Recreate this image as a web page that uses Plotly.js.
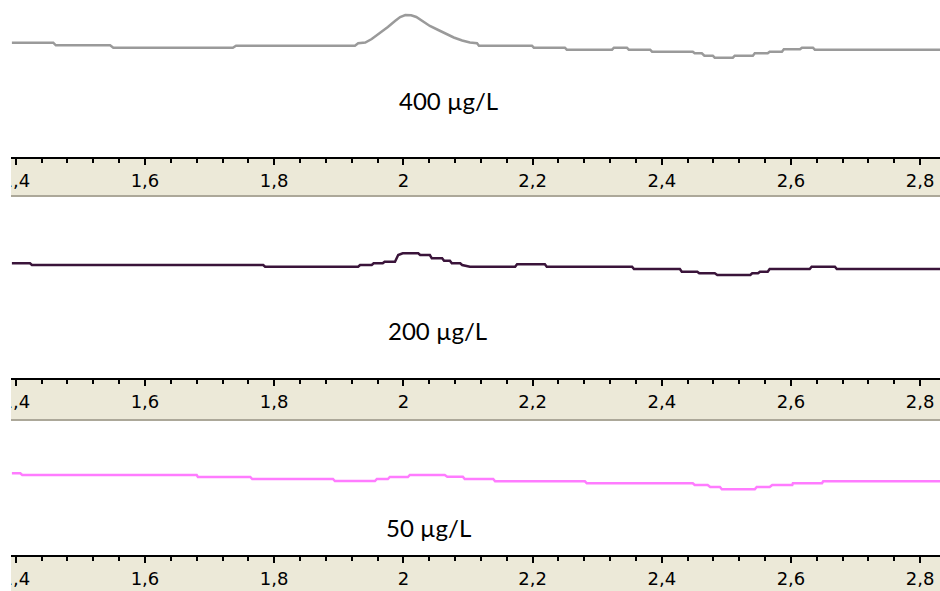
<!DOCTYPE html>
<html>
<head>
<meta charset="utf-8">
<script src="https://cdn.plot.ly/plotly-3.0.1.min.js"></script>
<style>
  html, body { margin: 0; padding: 0; background: #ffffff; }
  #chart { width: 940px; height: 591px; }
</style>
</head>
<body>
<div id="chart"></div>
<script>
// ---- Data (potential in V, signal in arbitrary units) ----
const labels400 = "400 µg/L";
const labels200 = "200 µg/L";
const labels50 = "50 µg/L";

const x400 = [1.394,1.458,1.462,1.546,1.551,1.736,1.741,1.925,1.930,1.941,1.951,1.964,1.976,1.987,1.995,2.003,2.012,2.020,2.030,2.041,2.054,2.066,2.078,2.091,2.103,2.114,2.117,2.199,2.202,2.250,2.253,2.323,2.326,2.346,2.349,2.382,2.385,2.448,2.451,2.462,2.466,2.479,2.482,2.510,2.513,2.541,2.544,2.564,2.567,2.586,2.589,2.614,2.617,2.634,2.637,2.831];
const y400 = [17.3,17.3,14.7,14.7,12.3,12.3,14.3,14.3,16.7,17.5,21,27,33,39,43,45,44.7,43,39,34,30,26,22.5,19.5,17.5,16.7,14.3,14.3,12.3,12.3,10.3,10.3,12.3,12.3,10.3,10.3,8.3,8.3,6.7,6.7,4.3,4.3,2.3,2.3,4.3,4.3,6.7,6.7,8.3,8.3,10.7,10.7,12.3,12.3,10.3,10.3];

const x200 = [1.394,1.422,1.425,1.783,1.786,1.930,1.933,1.951,1.954,1.968,1.971,1.987,1.992,1.999,2.023,2.026,2.041,2.044,2.060,2.063,2.072,2.075,2.088,2.091,2.103,2.173,2.176,2.219,2.222,2.354,2.357,2.428,2.431,2.455,2.458,2.482,2.486,2.537,2.540,2.549,2.552,2.564,2.567,2.629,2.632,2.668,2.671,2.831];
const y200 = [16.7,16.7,15,15,13.3,13.3,15,15,16.7,16.7,18.3,18.3,25,26.7,26.7,25,25,21.7,21.7,19.3,19.3,16.7,16.7,15,13.3,13.3,15.7,15.7,13.3,13.3,11,11,8.3,8.3,6.7,6.7,5,5,6.7,6.7,8.3,8.3,11,11,13.3,13.3,11,11];

const x50 = [1.394,1.407,1.410,1.680,1.682,1.763,1.766,1.891,1.894,1.956,1.959,1.976,1.979,2.007,2.010,2.064,2.068,2.092,2.095,2.139,2.142,2.281,2.284,2.448,2.451,2.471,2.475,2.490,2.493,2.544,2.547,2.567,2.571,2.602,2.603,2.648,2.650,2.831];
const y50 = [21.7,21.7,20,20,18,18,16,16,14,14,16,16,18,18,20,20,18.3,18.3,16,16,13.7,13.7,11.7,11.7,10,10,8,8,5.7,5.7,8,8,10,10,11.7,11.7,13.7,13.7];

// ---- Plot ----
const W = 940, H = 591, L = 11;
const py = p => 1 - p / H;           // pixel row -> paper y
const pxp = p => (p - L) / (W - L);  // pixel col -> paper x

const xRange = [1.3926, 2.8307];
const tickFont = {family: "DejaVu Sans", size: 18, color: "#000000"};

function rulerAxis(anchor) {
  return {
    anchor: anchor,
    range: xRange,
    domain: [0, 1],
    showgrid: false,
    zeroline: false,
    showline: true,
    linecolor: "#000000",
    linewidth: 2,
    ticks: "outside",
    ticklen: 6,
    tickwidth: 2,
    tickcolor: "#000000",
    tick0: 0,
    dtick: 0.2,
    tickfont: tickFont,
    ticklabeloverflow: "allow",
    minor: {dtick: 0.04, ticks: "outside", ticklen: 4, tickwidth: 2, tickcolor: "#000000", showgrid: false},
    fixedrange: true
  };
}

const traces = [
  {x: x400, y: y400, xaxis: "x", yaxis: "y", mode: "lines",
   line: {color: "#9a9a9a", width: 2.5}, hoverinfo: "skip", showlegend: false},
  {x: x200, y: y200, xaxis: "x2", yaxis: "y2", mode: "lines",
   line: {color: "#3a143a", width: 2.5}, hoverinfo: "skip", showlegend: false},
  {x: x50, y: y50, xaxis: "x3", yaxis: "y3", mode: "lines",
   line: {color: "#ff7cff", width: 2.5}, hoverinfo: "skip", showlegend: false}
];

const beige = "#ece9d8";
const strips = [[157, 196], [378, 420], [555, 591]];
const shapes = [];
strips.forEach(s => {
  shapes.push({type: "rect", xref: "paper", yref: "paper", x0: 0, x1: 1,
    y0: py(s[1]), y1: py(s[0]), fillcolor: beige, line: {width: 0}, layer: "below"});
  if (s[1] < H) {
    shapes.push({type: "line", xref: "paper", yref: "paper", x0: 0, x1: 1,
      y0: py(s[1]), y1: py(s[1]), line: {color: "#aca899", width: 2}, layer: "below"});
  }
});
// white mask left of the plot area (clips the cut-off first tick label)
shapes.push({type: "rect", xref: "paper", yref: "paper", x0: -L / (W - L), x1: 0,
  y0: 0, y1: 1, fillcolor: "#ffffff", line: {width: 0}, layer: "above"});

const annFont = {family: "Lato", size: 24, color: "#000000"};
const layout = {
  width: W, height: H,
  margin: {l: L, r: 0, t: 0, b: 0},
  paper_bgcolor: "#ffffff",
  plot_bgcolor: "rgba(0,0,0,0)",
  separators: ",.",
  showlegend: false,
  xaxis: rulerAxis("y"),
  xaxis2: rulerAxis("y2"),
  xaxis3: rulerAxis("y3"),
  yaxis: {domain: [py(157), 1], range: [-97, 60], visible: false, fixedrange: true},
  yaxis2: {domain: [py(378), py(200)], range: [-98, 80], visible: false, fixedrange: true},
  yaxis3: {domain: [py(555), py(425)], range: [-60, 70], visible: false, fixedrange: true},
  shapes: shapes,
  annotations: [
    {text: labels400, xref: "paper", yref: "paper", x: pxp(448), y: py(100), yanchor: "middle", showarrow: false, font: annFont},
    {text: labels200, xref: "paper", yref: "paper", x: pxp(437), y: py(330), yanchor: "middle", showarrow: false, font: annFont},
    {text: labels50, xref: "paper", yref: "paper", x: pxp(428), y: py(527), yanchor: "middle", showarrow: false, font: annFont}
  ]
};

Plotly.newPlot("chart", traces, layout, {displayModeBar: false, staticPlot: true});
</script>
</body>
</html>
